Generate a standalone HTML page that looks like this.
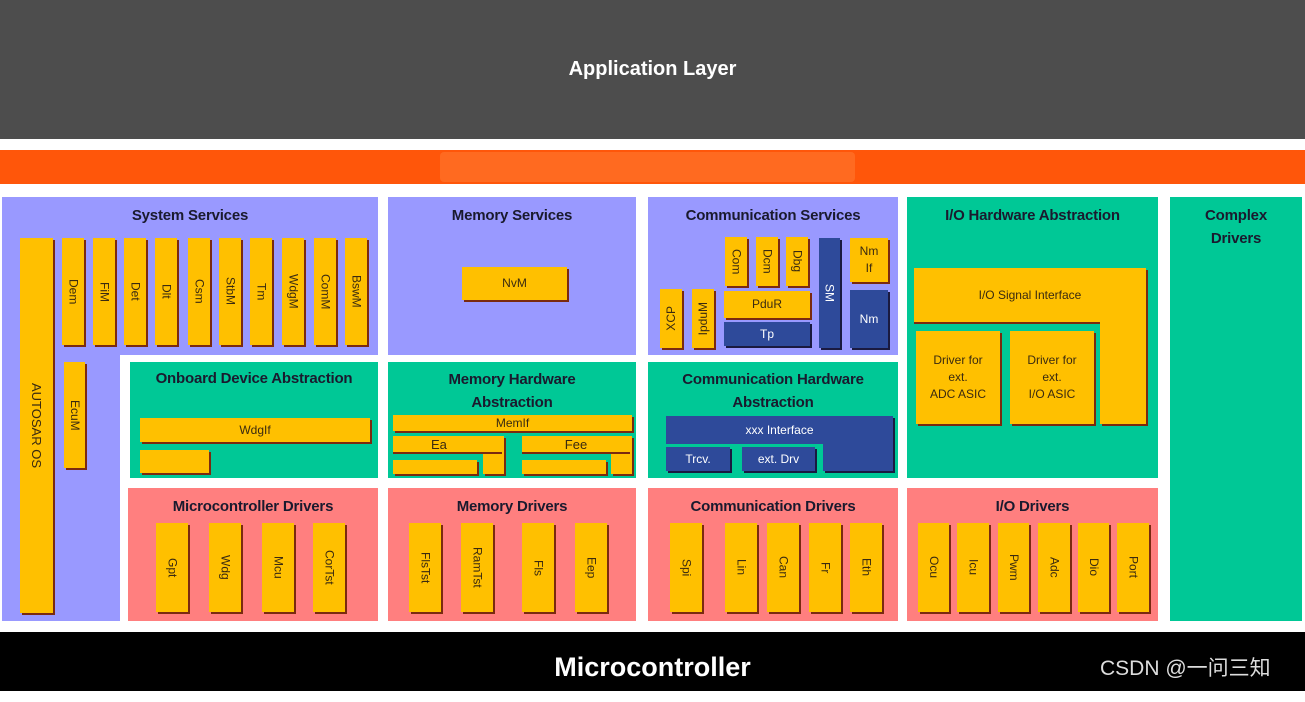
<!DOCTYPE html>
<html><head><meta charset="utf-8"><style>
*{margin:0;padding:0;box-sizing:border-box}
body{width:1305px;height:691px;position:relative;background:#fff;font-family:"Liberation Sans",sans-serif;overflow:hidden}
div{position:absolute}
.p{background:#9999ff}.t{background:#00c896}.r{background:#ff7f7f}
.h{font-weight:bold;font-size:15px;color:#1a1a2e;text-align:center;line-height:23px;letter-spacing:-0.2px}
.o{background:#ffc000;box-shadow:2px 2px 0 #7a2a10;color:#3a2a10;font-size:12px;display:flex;align-items:center;justify-content:center;text-align:center;line-height:17px}
.b{background:#2e4a9a;box-shadow:2px 2px 0 #1a1a40;color:#fff;font-size:12px;display:flex;align-items:center;justify-content:center}
.v span{writing-mode:vertical-rl}
.m span{transform:rotate(180deg)}
</style></head><body>
<div style="left:0;top:0;width:1305px;height:139px;background:#4d4d4d;color:#fff;font-weight:bold;font-size:20px;text-align:center;line-height:138px">Application Layer</div>
<div style="left:0;top:150px;width:1305px;height:34px;background:#ff560a"></div>
<div style="left:440px;top:152px;width:415px;height:30px;background:#ff6a20;border-radius:4px"></div>

<div class="p" style="left:2px;top:197px;width:376px;height:158px"></div>
<div class="p" style="left:2px;top:355px;width:118px;height:266px"></div>
<div class="h" style="left:2px;top:204px;width:376px">System Services</div>
<div class="p" style="left:388px;top:197px;width:248px;height:158px"></div>
<div class="h" style="left:388px;top:204px;width:248px">Memory Services</div>
<div class="p" style="left:648px;top:197px;width:250px;height:158px"></div>
<div class="h" style="left:648px;top:204px;width:250px">Communication Services</div>
<div class="t" style="left:907px;top:197px;width:251px;height:281px"></div>
<div class="h" style="left:907px;top:204px;width:251px">I/O Hardware Abstraction</div>
<div class="t" style="left:1170px;top:197px;width:132px;height:424px"></div>
<div class="h" style="left:1170px;top:204px;width:132px">Complex<br>Drivers</div>

<div class="t" style="left:130px;top:362px;width:248px;height:116px"></div>
<div class="h" style="left:130px;top:367px;width:248px">Onboard Device Abstraction</div>
<div class="t" style="left:388px;top:362px;width:248px;height:116px"></div>
<div class="h" style="left:388px;top:368px;width:248px">Memory Hardware<br>Abstraction</div>
<div class="t" style="left:648px;top:362px;width:250px;height:116px"></div>
<div class="h" style="left:648px;top:368px;width:250px">Communication Hardware<br>Abstraction</div>

<div class="r" style="left:128px;top:488px;width:250px;height:133px"></div>
<div class="h" style="left:128px;top:495px;width:250px">Microcontroller Drivers</div>
<div class="r" style="left:388px;top:488px;width:248px;height:133px"></div>
<div class="h" style="left:388px;top:495px;width:248px">Memory Drivers</div>
<div class="r" style="left:648px;top:488px;width:250px;height:133px"></div>
<div class="h" style="left:648px;top:495px;width:250px">Communication Drivers</div>
<div class="r" style="left:907px;top:488px;width:251px;height:133px"></div>
<div class="h" style="left:907px;top:495px;width:251px">I/O Drivers</div>

<div style="left:0;top:632px;width:1305px;height:59px;background:#000;color:#fff;font-weight:bold;font-size:27px;text-align:center;line-height:70px">Microcontroller</div>
<div style="left:1100px;top:652px;color:#ddd;font-size:21px;font-family:'Liberation Sans','Noto Sans CJK SC',sans-serif">CSDN @一问三知</div>

<!-- system services -->
<div class="o v" style="left:20px;top:238px;width:33px;height:375px;font-size:13px"><span>AUTOSAR OS</span></div>
<div class="o v" style="left:62px;top:238px;width:22px;height:107px"><span>Dem</span></div>
<div class="o v" style="left:93px;top:238px;width:22px;height:107px"><span>FiM</span></div>
<div class="o v" style="left:124px;top:238px;width:22px;height:107px"><span>Det</span></div>
<div class="o v" style="left:155px;top:238px;width:22px;height:107px"><span>Dlt</span></div>
<div class="o v" style="left:188px;top:238px;width:22px;height:107px"><span>Csm</span></div>
<div class="o v" style="left:219px;top:238px;width:22px;height:107px"><span>StbM</span></div>
<div class="o v" style="left:250px;top:238px;width:22px;height:107px"><span>Tm</span></div>
<div class="o v" style="left:282px;top:238px;width:22px;height:107px"><span>WdgM</span></div>
<div class="o v" style="left:314px;top:238px;width:22px;height:107px"><span>ComM</span></div>
<div class="o v" style="left:345px;top:238px;width:22px;height:107px"><span>BswM</span></div>
<div class="o v" style="left:64px;top:362px;width:21px;height:106px"><span>EcuM</span></div>

<div class="o" style="left:140px;top:418px;width:230px;height:24px">WdgIf</div>
<div class="o" style="left:140px;top:450px;width:69px;height:23px"></div>

<div class="o v" style="left:156px;top:523px;width:32px;height:89px"><span>Gpt</span></div>
<div class="o v" style="left:209px;top:523px;width:32px;height:89px"><span>Wdg</span></div>
<div class="o v" style="left:262px;top:523px;width:32px;height:89px"><span>Mcu</span></div>
<div class="o v" style="left:313px;top:523px;width:32px;height:89px"><span>CorTst</span></div>

<!-- memory -->
<div class="o" style="left:462px;top:267px;width:105px;height:33px">NvM</div>
<div class="o" style="left:393px;top:415px;width:239px;height:16px">MemIf</div>
<div class="o" style="left:483px;top:436px;width:21px;height:38px"></div>
<div class="o" style="left:393px;top:436px;width:109px;height:16px;box-shadow:0 2px 0 #7a2a10;justify-content:flex-start;padding-left:38px;font-size:13px">Ea</div>
<div class="o" style="left:393px;top:460px;width:84px;height:14px"></div>
<div class="o" style="left:611px;top:436px;width:21px;height:38px"></div>
<div class="o" style="left:522px;top:436px;width:108px;height:16px;box-shadow:0 2px 0 #7a2a10;font-size:13px">Fee</div>
<div class="o" style="left:522px;top:460px;width:84px;height:14px"></div>

<div class="o v" style="left:409px;top:523px;width:32px;height:89px"><span>FlsTst</span></div>
<div class="o v" style="left:461px;top:523px;width:32px;height:89px"><span>RamTst</span></div>
<div class="o v" style="left:522px;top:523px;width:32px;height:89px"><span>Fls</span></div>
<div class="o v" style="left:575px;top:523px;width:32px;height:89px"><span>Eep</span></div>

<!-- communication -->
<div class="o v" style="left:725px;top:237px;width:22px;height:49px"><span>Com</span></div>
<div class="o v" style="left:756px;top:237px;width:22px;height:49px"><span>Dcm</span></div>
<div class="o v" style="left:786px;top:237px;width:22px;height:49px"><span>Dbg</span></div>
<div class="o" style="left:724px;top:291px;width:86px;height:27px">PduR</div>
<div class="b" style="left:724px;top:322px;width:86px;height:24px">Tp</div>
<div class="o v m" style="left:660px;top:289px;width:22px;height:59px"><span>XCP</span></div>
<div class="o v m" style="left:692px;top:289px;width:22px;height:59px"><span>IpduM</span></div>
<div class="b v" style="left:819px;top:238px;width:21px;height:110px"><span>SM</span></div>
<div class="o" style="left:850px;top:238px;width:38px;height:44px">Nm<br>If</div>
<div class="b" style="left:850px;top:290px;width:38px;height:58px">Nm</div>

<div class="b" style="left:823px;top:416px;width:70px;height:55px"></div>
<div class="b" style="left:666px;top:416px;width:227px;height:28px;box-shadow:none">xxx Interface</div>
<div class="b" style="left:666px;top:447px;width:64px;height:24px">Trcv.</div>
<div class="b" style="left:742px;top:447px;width:73px;height:24px">ext. Drv</div>

<div class="o v" style="left:670px;top:523px;width:32px;height:89px"><span>Spi</span></div>
<div class="o v" style="left:725px;top:523px;width:32px;height:89px"><span>Lin</span></div>
<div class="o v" style="left:767px;top:523px;width:32px;height:89px"><span>Can</span></div>
<div class="o v" style="left:809px;top:523px;width:32px;height:89px"><span>Fr</span></div>
<div class="o v" style="left:850px;top:523px;width:32px;height:89px"><span>Eth</span></div>

<!-- I/O -->
<div class="o" style="left:1100px;top:268px;width:46px;height:156px"></div>
<div class="o" style="left:914px;top:268px;width:232px;height:54px;box-shadow:0 2px 0 #7a2a10">I/O Signal Interface</div>
<div class="o" style="left:1100px;top:300px;width:46px;height:40px;box-shadow:none"></div>
<div class="o" style="left:916px;top:331px;width:84px;height:93px">Driver for<br>ext.<br>ADC ASIC</div>
<div class="o" style="left:1010px;top:331px;width:84px;height:93px">Driver for<br>ext.<br>I/O ASIC</div>

<div class="o v" style="left:918px;top:523px;width:31px;height:89px"><span>Ocu</span></div>
<div class="o v" style="left:957px;top:523px;width:32px;height:89px"><span>Icu</span></div>
<div class="o v" style="left:998px;top:523px;width:31px;height:89px"><span>Pwm</span></div>
<div class="o v" style="left:1038px;top:523px;width:32px;height:89px"><span>Adc</span></div>
<div class="o v" style="left:1078px;top:523px;width:31px;height:89px"><span>Dio</span></div>
<div class="o v" style="left:1117px;top:523px;width:32px;height:89px"><span>Port</span></div>
</body></html>
